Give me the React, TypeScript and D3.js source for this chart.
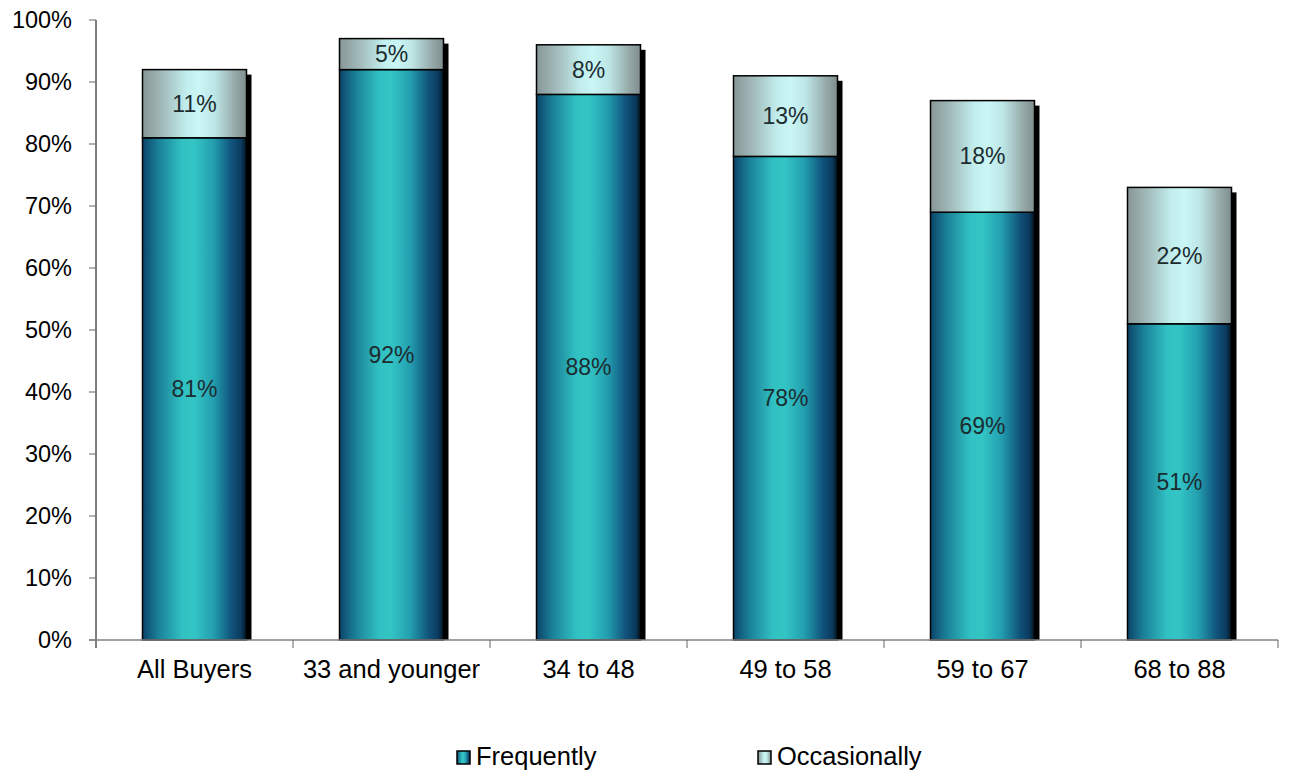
import { useEffect, useRef } from "react";
import * as d3 from "d3";

const categories = ["All Buyers", "33 and younger", "34 to 48", "49 to 58", "59 to 67", "68 to 88"];
const frequently = [81, 92, 88, 78, 69, 51];
const occasionally = [11, 5, 8, 13, 18, 22];
const yTicks = [0, 10, 20, 30, 40, 50, 60, 70, 80, 90, 100];
const seriesNames = ["Frequently", "Occasionally"];

export default function App() {
	const ref = useRef<SVGSVGElement>(null);

	useEffect(() => {
		const svg = d3.select(ref.current);
		svg.selectAll("*").remove();

		const left = 96, right = 1278, top = 20, bottom = 640;
		const font = "'Liberation Sans', Arial, sans-serif";

		const x = d3.scaleBand().domain(categories).range([left, right]);
		const y = d3.scaleLinear().domain([0, 100]).range([bottom, top]);
		const barW = 104;

		// Gradients
		const defs = svg.append("defs");
		const freqGrad = defs.append("linearGradient").attr("id", "freq").attr("x1", "0").attr("x2", "1").attr("y1", "0").attr("y2", "0");
		[
			[0, "#0c4468"], [0.15, "#1a7f98"], [0.38, "#31c1c2"], [0.5, "#33c4c4"],
			[0.68, "#239fb0"], [0.86, "#10527a"], [0.95, "#0b3a5e"], [1, "#05141e"]
		].forEach(([o, c]) => freqGrad.append("stop").attr("offset", o as number).attr("stop-color", c as string));

		const occGrad = defs.append("linearGradient").attr("id", "occ").attr("x1", "0").attr("x2", "1").attr("y1", "0").attr("y2", "0");
		[
			[0, "#889696"], [0.2, "#a3bcbc"], [0.42, "#c2eded"], [0.55, "#caf6f6"],
			[0.7, "#bde5e5"], [0.88, "#98acac"], [1, "#7f8d8d"]
		].forEach(([o, c]) => occGrad.append("stop").attr("offset", o as number).attr("stop-color", c as string));

		// Bars
		categories.forEach((cat, i) => {
			const cx = x(cat)! + x.bandwidth() / 2;
			const x0 = cx - barW / 2;
			const total = frequently[i] + occasionally[i];

			// shadow
			svg.append("rect")
				.attr("x", x0 + 5)
				.attr("y", y(total) + 5)
				.attr("width", barW)
				.attr("height", y(0) - y(total) - 5)
				.attr("fill", "#000");

			svg.append("rect")
				.attr("x", x0)
				.attr("y", y(frequently[i]))
				.attr("width", barW)
				.attr("height", y(0) - y(frequently[i]))
				.attr("fill", "url(#freq)")
				.attr("stroke", "#000")
				.attr("stroke-width", 1.5);

			svg.append("rect")
				.attr("x", x0)
				.attr("y", y(total))
				.attr("width", barW)
				.attr("height", y(frequently[i]) - y(total))
				.attr("fill", "url(#occ)")
				.attr("stroke", "#000")
				.attr("stroke-width", 1.5);

			svg.append("text")
				.attr("x", cx)
				.attr("y", (y(0) + y(frequently[i])) / 2)
				.attr("dy", "0.35em")
				.attr("text-anchor", "middle")
				.attr("font-family", font)
				.attr("font-size", 23)
				.attr("fill", "#1c2c30")
				.text(frequently[i] + "%");

			svg.append("text")
				.attr("x", cx)
				.attr("y", (y(frequently[i]) + y(total)) / 2)
				.attr("dy", "0.35em")
				.attr("text-anchor", "middle")
				.attr("font-family", font)
				.attr("font-size", 23)
				.attr("fill", "#1c2c30")
				.text(occasionally[i] + "%");
		});

		// Y axis
		svg.append("line")
			.attr("x1", left).attr("x2", left)
			.attr("y1", top).attr("y2", bottom + 8)
			.attr("stroke", "#000");
		yTicks.forEach(t => {
			svg.append("line")
				.attr("x1", left - 7).attr("x2", left)
				.attr("y1", y(t)).attr("y2", y(t))
				.attr("stroke", "#666");
			svg.append("text")
				.attr("x", left - 24)
				.attr("y", y(t))
				.attr("dy", "0.35em")
				.attr("text-anchor", "end")
				.attr("font-family", font)
				.attr("font-size", 23.5)
				.attr("fill", "#000")
				.text(t + "%");
		});

		// X axis
		svg.append("line")
			.attr("x1", left - 7).attr("x2", right)
			.attr("y1", bottom).attr("y2", bottom)
			.attr("stroke", "#808080")
			.attr("stroke-width", 1.5);
		categories.forEach((cat, i) => {
			const xe = x(cat)! + x.bandwidth();
			svg.append("line")
				.attr("x1", xe).attr("x2", xe)
				.attr("y1", bottom).attr("y2", bottom + 8)
				.attr("stroke", "#666");
			svg.append("text")
				.attr("x", x(cat)! + x.bandwidth() / 2)
				.attr("y", bottom + 38)
				.attr("text-anchor", "middle")
				.attr("font-family", font)
				.attr("font-size", 25.5)
				.attr("fill", "#000")
				.text(cat);
		});

		// Legend
		const legendX = [457, 758];
		seriesNames.forEach((name, i) => {
			svg.append("rect")
				.attr("x", legendX[i])
				.attr("y", 751)
				.attr("width", 13)
				.attr("height", 13)
				.attr("fill", i === 0 ? "url(#freq)" : "url(#occ)")
				.attr("stroke", "#000")
				.attr("stroke-width", 1.5);
			svg.append("text")
				.attr("x", legendX[i] + 19)
				.attr("y", 765)
				.attr("font-family", font)
				.attr("font-size", 25.5)
				.attr("fill", "#000")
				.text(name);
		});
	}, []);

	return (
		<svg ref={ref} width={1291} height={773} style={{ position: "absolute", left: 0, top: 0 }}></svg>
	);
}
